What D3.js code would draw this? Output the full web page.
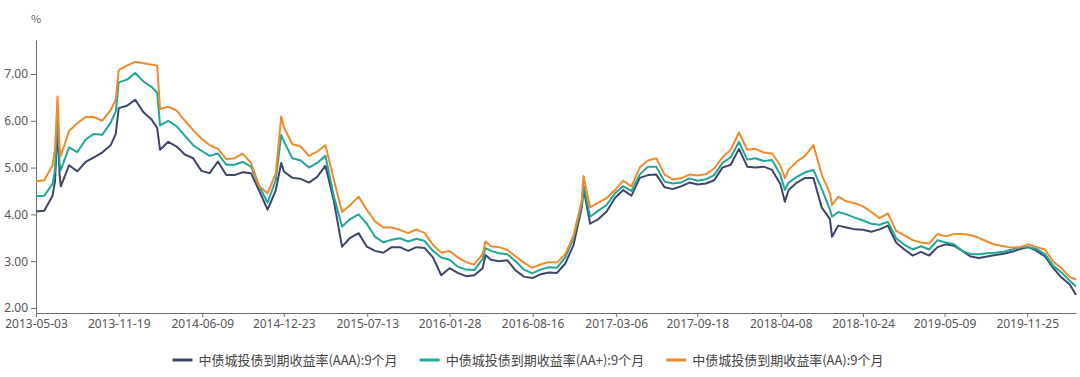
<!DOCTYPE html>
<html><head><meta charset="utf-8">
<script src="https://cdn.jsdelivr.net/npm/d3@7"></script>
<style>
body{margin:0;background:#fff;}
svg{display:block;font-family:"Noto Sans CJK SC","Noto Sans",sans-serif;}
</style>
</head><body>
<svg id="chart" width="1080" height="377"></svg>
<script>
const dates = [
"2013-05-03","2013-05-23","2013-06-12","2013-06-18","2013-06-24","2013-06-29","2013-07-02","2013-07-22","2013-08-11","2013-08-31",
"2013-09-20","2013-10-10","2013-10-30","2013-11-12","2013-11-19","2013-12-09","2013-12-29","2014-01-18","2014-02-07","2014-02-20",
"2014-02-27","2014-03-19","2014-04-08","2014-04-28","2014-05-18","2014-06-07","2014-06-27","2014-07-17","2014-08-06","2014-08-26",
"2014-09-15","2014-10-05","2014-10-25","2014-11-14","2014-12-04","2014-12-17","2014-12-24","2015-01-13","2015-02-02","2015-02-22",
"2015-03-14","2015-04-03","2015-04-23","2015-05-13","2015-06-02","2015-06-22","2015-07-12","2015-08-01","2015-08-21","2015-09-10",
"2015-09-30","2015-10-20","2015-11-09","2015-11-29","2015-12-19","2016-01-08","2016-01-28","2016-02-17","2016-03-08","2016-03-28",
"2016-04-17","2016-04-24","2016-05-07","2016-05-27","2016-06-16","2016-07-06","2016-07-26","2016-08-15","2016-09-04","2016-09-24",
"2016-10-14","2016-11-03","2016-11-23","2016-12-13","2016-12-17","2017-01-02","2017-01-22","2017-02-11","2017-03-03","2017-03-23",
"2017-04-12","2017-05-02","2017-05-22","2017-06-11","2017-07-01","2017-07-21","2017-08-10","2017-08-30","2017-09-19","2017-10-09",
"2017-10-29","2017-11-18","2017-12-08","2017-12-28","2018-01-17","2018-02-06","2018-02-26","2018-03-18","2018-04-07","2018-04-18",
"2018-04-27","2018-05-17","2018-06-06","2018-06-26","2018-07-16","2018-08-05","2018-08-10","2018-08-25","2018-09-14","2018-10-04",
"2018-10-24","2018-11-13","2018-12-03","2018-12-23","2019-01-12","2019-02-01","2019-02-21","2019-03-13","2019-04-02","2019-04-22",
"2019-05-12","2019-06-01","2019-06-21","2019-07-11","2019-07-31","2019-08-20","2019-09-09","2019-09-29","2019-10-19","2019-11-08",
"2019-11-28","2019-12-18","2020-01-07","2020-01-27","2020-02-16","2020-03-07","2020-03-22"
];

const seriesNames = [
  "中债城投债到期收益率(AAA):9个月",
  "中债城投债到期收益率(AA+):9个月",
  "中债城投债到期收益率(AA):9个月"
];

const yieldAAA = [
4.06,4.08,4.40,4.70,5.87,4.85,4.60,5.05,4.92,5.12,
5.22,5.32,5.47,5.72,6.27,6.32,6.45,6.18,6.02,5.85,
5.38,5.55,5.45,5.28,5.20,4.93,4.88,5.13,4.84,4.84,
4.90,4.88,4.50,4.10,4.52,5.10,4.91,4.78,4.76,4.68,
4.80,5.04,4.30,3.31,3.50,3.60,3.31,3.22,3.18,3.30,
3.30,3.22,3.30,3.28,3.08,2.70,2.85,2.75,2.68,2.70,
2.85,3.13,3.03,3.00,3.02,2.80,2.67,2.64,2.72,2.76,
2.75,2.95,3.35,4.15,4.56,3.80,3.90,4.06,4.35,4.52,
4.40,4.78,4.84,4.85,4.58,4.54,4.60,4.68,4.64,4.66,
4.73,5.00,5.06,5.40,5.02,5.00,5.02,4.95,4.65,4.27,
4.52,4.68,4.78,4.78,4.15,3.90,3.52,3.76,3.72,3.68,
3.67,3.63,3.68,3.76,3.40,3.25,3.12,3.20,3.12,3.30,
3.36,3.33,3.22,3.10,3.07,3.10,3.13,3.16,3.20,3.26,
3.30,3.22,3.10,2.85,2.65,2.50,2.28
];

const yieldAAPlus = [
4.39,4.40,4.65,4.95,6.22,5.10,4.95,5.43,5.33,5.60,
5.72,5.70,5.95,6.20,6.82,6.88,7.02,6.84,6.72,6.60,
5.90,6.00,5.88,5.68,5.48,5.36,5.25,5.30,5.06,5.06,
5.12,5.02,4.60,4.25,4.74,5.70,5.55,5.20,5.15,5.00,
5.10,5.25,4.40,3.74,3.90,4.00,3.80,3.52,3.40,3.46,
3.49,3.42,3.48,3.43,3.22,3.08,3.03,2.88,2.82,2.81,
3.05,3.28,3.22,3.17,3.15,3.00,2.82,2.74,2.82,2.87,
2.86,3.08,3.50,4.20,4.63,3.95,4.08,4.20,4.45,4.60,
4.50,4.85,5.02,5.02,4.70,4.66,4.68,4.77,4.72,4.75,
4.84,5.10,5.22,5.55,5.17,5.20,5.14,5.16,4.85,4.52,
4.68,4.80,4.90,4.95,4.55,4.10,3.95,4.05,4.00,3.93,
3.87,3.80,3.78,3.84,3.49,3.35,3.25,3.32,3.25,3.45,
3.40,3.36,3.22,3.15,3.15,3.17,3.18,3.20,3.25,3.30,
3.30,3.26,3.15,2.90,2.76,2.58,2.46
];

const yieldAA = [
4.71,4.73,5.05,5.40,6.52,5.45,5.25,5.78,5.95,6.08,
6.08,6.00,6.22,6.45,7.08,7.18,7.26,7.23,7.20,7.18,
6.25,6.30,6.22,6.00,5.80,5.62,5.48,5.40,5.18,5.20,
5.30,5.10,4.60,4.45,4.88,6.09,5.85,5.50,5.45,5.25,
5.34,5.48,4.75,4.05,4.20,4.38,4.10,3.85,3.72,3.72,
3.67,3.60,3.68,3.60,3.35,3.18,3.22,3.08,2.98,2.93,
3.15,3.42,3.32,3.30,3.24,3.10,2.97,2.86,2.93,2.98,
2.97,3.15,3.55,4.30,4.82,4.15,4.25,4.35,4.52,4.72,
4.60,5.00,5.15,5.20,4.85,4.75,4.77,4.85,4.83,4.86,
4.98,5.22,5.38,5.75,5.38,5.40,5.32,5.30,5.05,4.77,
4.95,5.13,5.25,5.48,4.85,4.45,4.20,4.38,4.28,4.24,
4.17,4.05,3.92,4.02,3.65,3.55,3.45,3.40,3.38,3.58,
3.53,3.58,3.58,3.56,3.50,3.42,3.35,3.32,3.29,3.30,
3.36,3.30,3.25,2.99,2.85,2.66,2.61
];

const xTickLabels = ["2013-05-03","2013-11-19","2014-06-09","2014-12-23","2015-07-13","2016-01-28",
  "2016-08-16","2017-03-06","2017-09-18","2018-04-08","2018-10-24","2019-05-09","2019-11-25"];
const yTickValues = [2, 3, 4, 5, 6, 7];
const unitLabel = "%";
const colors = ["#3d4669", "#20a797", "#f08a2b"];

const parse = d3.utcParse("%Y-%m-%d");
const svg = d3.select("#chart");
const parsedDates = dates.map(parse);

const x = d3.scaleUtc()
  .domain([parsedDates[0], parsedDates[parsedDates.length - 1]])
  .range([36, 1076]);
const y = d3.scaleLinear().domain([1.893, 7.726]).range([313, 40]);

// Y axis
const yAxis = svg.append("g").attr("transform", "translate(36,0)")
  .call(d3.axisLeft(y).tickValues(yTickValues).tickFormat(d3.format(".2f")).tickSize(5).tickSizeOuter(0).tickPadding(3));
yAxis.select(".domain").attr("stroke", "#6e6e6e");
yAxis.selectAll(".tick line").attr("stroke", "#6e6e6e");
yAxis.selectAll(".tick text").attr("fill", "#555").style("font-size", "12px")
  .style("font-family", "'Noto Sans','DejaVu Sans',sans-serif");

// X axis
const xAxis = svg.append("g").attr("transform", "translate(0,313)")
  .call(d3.axisBottom(x).tickValues(xTickLabels.map(parse)).tickFormat(d3.utcFormat("%Y-%m-%d")).tickSize(4).tickSizeOuter(0).tickPadding(2));
xAxis.select(".domain").attr("stroke", "#6e6e6e");
xAxis.selectAll(".tick line").attr("stroke", "#6e6e6e");
xAxis.selectAll(".tick text").attr("fill", "#555").style("font-size", "12px")
  .style("font-family", "'Noto Sans','DejaVu Sans',sans-serif");

svg.append("text").attr("x", 36).attr("y", 23).attr("text-anchor", "middle")
  .attr("fill", "#666").style("font-size", "11px").text(unitLabel);

// Lines
const series = [yieldAAA, yieldAAPlus, yieldAA];
const line = d3.line().x((d, i) => x(parsedDates[i])).y(d => y(d));
series.forEach((vals, k) => {
  svg.append("path").datum(vals)
    .attr("fill", "none").attr("stroke", colors[k]).attr("stroke-width", 2)
    .attr("stroke-linejoin", "round").attr("d", line);
});

// Legend
const lg = svg.append("g");
let cx = 0;
const items = [];
seriesNames.forEach((name, k) => {
  const g = lg.append("g").attr("transform", `translate(${cx},0)`);
  g.append("line").attr("x1", 0).attr("x2", 20).attr("y1", 0).attr("y2", 0)
    .attr("stroke", colors[k]).attr("stroke-width", 3);
  const t = g.append("text").attr("x", 26).attr("y", 0).attr("dy", "0.35em")
    .attr("fill", "#444").style("font-size", "13px").text(name);
  const w = t.node().getComputedTextLength();
  cx += 26 + w + 22;
});
const total = cx - 22;
lg.attr("transform", `translate(${528 - total / 2},360)`);
</script>
</body></html>
